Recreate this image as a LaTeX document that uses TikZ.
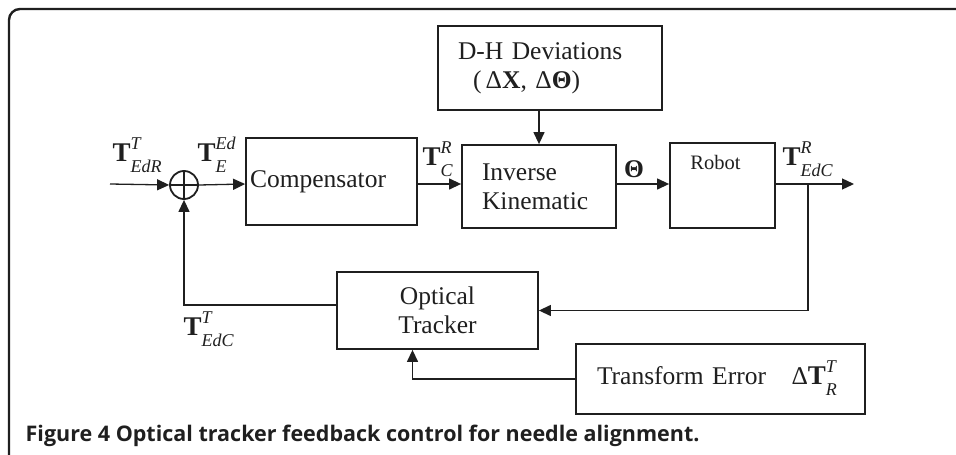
\documentclass[tikz,border=0pt]{standalone}
\usepackage{fontspec}
\setmainfont{Liberation Serif}
\newfontfamily\capfont{Open Sans}
\usetikzlibrary{arrows.meta}
\newcommand{\tmat}[2]{{\fontsize{27}{29}\selectfont\textbf{T}}\raisebox{-11pt}{\fontsize{18}{23}\selectfont\itshape
  \begin{tabular}[b]{@{}l@{}}#1\\#2\end{tabular}}}

\begin{document}
\begin{tikzpicture}[x=1pt, y=-1pt, line width=1.3pt, color={black!88},
  blk/.style={draw, line width=1.8pt, rectangle, inner sep=0pt,
    font=\fontsize{25.5}{29}\selectfont},
  lbl/.style={inner sep=0pt, font=\fontsize{25.5}{29}\selectfont},
  sig/.style={-{Triangle[length=12pt,width=11pt]}},
  sumnode/.style={draw, circle, line width=1.8pt, minimum size=28pt, inner sep=0pt,
    path picture={\draw[line width=1.3pt] (path picture bounding box.north) -- (path picture bounding box.south)
      (path picture bounding box.west) -- (path picture bounding box.east);}},
]
  \useasboundingbox (0,0) rectangle (956,455);
  \draw[line width=2.4pt, rounded corners=11pt] (9,455) -- (9,9) -- (956,9);

  \coordinate (in) at (110,184);
  \coordinate (out) at (854,184);
  \coordinate (br) at (808,184);
  \coordinate (fb) at (184,305);

  \node[sumnode] (sum) at (184,185) {};
  \node[blk, minimum width=224pt, minimum height=84pt, text width=184pt, inner xsep=20pt, align=left]
    (dh) at (550,68) {D-H Deviations\\\hspace*{15pt}(\,Δ\textbf{X}, Δ\textbf{Θ})};
  \node[blk, minimum height=87pt, text width=163pt, inner xsep=4pt, align=left]
    (comp) at (331.5,181.5) {Compensator};
  \node[blk, minimum height=83pt, text width=114pt, inner xsep=20pt, align=left]
    (inv) at (539,186.5) {Inverse\\Kinematic};
  \node[blk, minimum width=105pt, minimum height=85pt,
    label={[inner sep=0pt, anchor=north, xshift=-7pt, yshift=-13pt, font=\fontsize{20.5}{24}\selectfont]north:Robot}]
    (rob) at (722.5,185.5) {};
  \node[blk, minimum width=201pt, minimum height=77pt, align=center]
    (opt) at (437.5,310.5) {Optical\\Tracker};
  \node[blk, minimum height=70pt, text width=247pt, inner xsep=21pt, align=left]
    (terr) at (720.5,379) {Transform Error\quad Δ\tmat{T}{R}};

  \draw[sig] (in) -- (sum.west);
  \draw[sig] (sum.east) -- (comp.west |- in);
  \draw[sig] (comp.east |- in) -- (inv.west |- in);
  \draw[sig] (inv.east |- in) -- (rob.west |- in);
  \draw[sig] (rob.east |- in) -- (out);
  \draw[sig] (inv.north |- dh.south) -- (inv.north);
  \draw[sig] (br) |- (opt.east);
  \draw[sig] (opt.west |- fb) -| (sum.south);
  \draw[sig] (terr.west) -| ([xshift=-25pt]opt.south);

  \node[lbl, anchor=base west] (tedr) at (112,161) {\tmat{T}{EdR}};
  \node[lbl, anchor=base west] (te) at (197,161) {\tmat{Ed}{E}};
  \node[lbl, anchor=base west] (tc) at (422,165) {\tmat{R}{C}};
  \node[lbl] (th) at (634,169) {\textbf{Θ}};
  \node[lbl, anchor=base west] (tedc) at (782,165) {\tmat{R}{EdC}};
  \node[lbl, anchor=base west] (tfb) at (183,335) {\tmat{T}{EdC}};

  \node[anchor=base west, inner sep=0pt, font=\capfont\bfseries\fontsize{21.5}{23}\selectfont]
    (cap) at (25,441) {Figure 4 Optical tracker feedback control for needle alignment.};
\end{tikzpicture}
\end{document}
